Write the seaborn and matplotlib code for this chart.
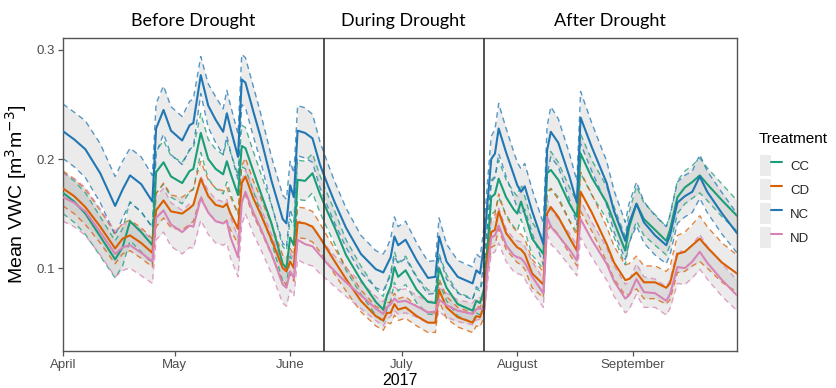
import numpy as np
import pandas as pd
import matplotlib
matplotlib.use("Agg")
import matplotlib.pyplot as plt
import matplotlib.dates as mdates
from matplotlib.patches import Patch
from matplotlib.lines import Line2D
from matplotlib.legend_handler import HandlerTuple
import seaborn as sns

year = "2017"
dates = [
    # before drought
    "04-01", "04-04", "04-07", "04-11", "04-15", "04-17", "04-19", "04-22", "04-25", "04-26",
    "04-28", "04-30", "05-03", "05-05", "05-06", "05-08", "05-10", "05-12", "05-14", "05-15",
    "05-16", "05-18", "05-19", "05-20", "05-22", "05-24", "05-27", "05-30", "05-31", "06-01",
    "06-02", "06-03", "06-05", "06-07", "06-09",
    # during drought
    "06-11", "06-13", "06-16", "06-20", "06-24", "06-26", "06-27", "06-28", "06-29", "06-30",
    "07-02", "07-05", "07-08", "07-10", "07-11", "07-13", "07-16", "07-20", "07-21", "07-22",
    # after drought
    "07-23", "07-24", "07-25", "07-26", "07-27", "07-29", "07-31", "08-01", "08-02", "08-03",
    "08-05", "08-08", "08-09", "08-10", "08-12", "08-15", "08-17", "08-18", "08-21", "08-25",
    "08-27", "08-30", "08-31", "09-02", "09-04", "09-07", "09-10", "09-11", "09-13", "09-15",
    "09-17", "09-19", "09-21", "09-25", "09-29",
]

treatments = ["CC", "CD", "NC", "ND"]

nc = [
    .2255, .218, .209, .187, .157, .172, .185, .177, .161, .228,
    .245, .226, .217, .231, .233, .277, .249, .236, .225, .242,
    .228, .202, .273, .270, .245, .221, .180, .145, .141, .176,
    .165, .226, .224, .219, .195,
    .177, .160, .137, .113, .099, .096, .103, .110, .129, .121,
    .126, .107, .091, .092, .129, .106, .092, .086, .098, .095,
    .120, .160, .200, .205, .228, .206, .186, .176, .170, .175,
    .152, .122, .208, .225, .215, .184, .160, .238, .211, .178,
    .152, .125, .141, .159, .142, .130, .121, .130, .160, .166,
    .170, .184, .170, .150, .132,
]
cc = [
    .169, .161, .150, .129, .108, .119, .143, .133, .121, .188,
    .197, .184, .178, .189, .191, .224, .200, .191, .186, .198,
    .187, .167, .212, .210, .190, .170, .141, .104, .100, .128,
    .121, .181, .180, .187, .168,
    .152, .137, .112, .089, .069, .062, .075, .083, .101, .092,
    .098, .080, .069, .068, .100, .082, .067, .061, .070, .068,
    .080, .120, .165, .168, .182, .165, .154, .150, .161, .150,
    .127, .113, .187, .190, .181, .159, .147, .205, .183, .160,
    .142, .116, .137, .159, .145, .135, .125, .135, .165, .174,
    .179, .185, .177, .162, .148,
]
cd = [
    .173, .166, .156, .138, .118, .127, .130, .123, .114, .153,
    .162, .152, .150, .155, .158, .182, .166, .158, .156, .159,
    .150, .136, .178, .184, .165, .150, .126, .100, .097, .106,
    .100, .142, .141, .138, .128,
    .117, .106, .090, .070, .056, .052, .059, .059, .067, .062,
    .064, .056, .050, .050, .080, .064, .055, .050, .056, .055,
    .065, .110, .133, .135, .152, .132, .123, .119, .117, .113,
    .095, .085, .150, .156, .147, .128, .116, .170, .151, .122,
    .105, .089, .090, .096, .087, .087, .082, .086, .113, .115,
    .121, .127, .119, .105, .095,
]
nd = [
    .165, .160, .152, .133, .113, .119, .121, .114, .106, .146,
    .153, .140, .133, .139, .138, .164, .151, .143, .141, .143,
    .128, .110, .160, .170, .152, .137, .113, .085, .082, .097,
    .091, .126, .122, .120, .112,
    .104, .097, .087, .075, .063, .058, .064, .067, .072, .069,
    .070, .065, .0595, .060, .071, .066, .061, .058, .0625, .063,
    .062, .100, .128, .130, .139, .121, .112, .110, .109, .105,
    .092, .077, .147, .138, .130, .117, .107, .145, .126, .104,
    .088, .072, .075, .090, .078, .077, .070, .076, .101, .100,
    .106, .115, .105, .089, .075,
]

nc_se = [
    .025, .025, .026, .027, .027, .026, .025, .025, .024, .023,
    .022, .022, .022, .022, .022, .017, .020, .021, .021, .021,
    .021, .021, .023, .023, .023, .022, .022, .022, .022, .022,
    .022, .023, .023, .022, .021,
    .020, .019, .018, .017, .017, .017, .016, .017, .018, .017,
    .017, .016, .015, .015, .017, .016, .015, .015, .015, .015,
    .016, .019, .021, .022, .023, .022, .021, .021, .021, .021,
    .020, .019, .022, .023, .022, .021, .020, .024, .022, .020,
    .019, .017, .018, .020, .019, .018, .017, .018, .019, .019,
    .019, .020, .019, .019, .018,
]
cc_se = [
    .019, .019, .019, .018, .017, .017, .018, .018, .017, .019,
    .020, .019, .019, .019, .019, .018, .018, .018, .018, .019,
    .019, .018, .019, .019, .018, .018, .017, .016, .016, .017,
    .017, .018, .018, .018, .017,
    .016, .015, .014, .013, .012, .012, .012, .013, .014, .013,
    .013, .012, .011, .011, .013, .012, .011, .011, .011, .011,
    .012, .014, .016, .016, .017, .016, .016, .016, .016, .016,
    .015, .014, .017, .017, .016, .015, .014, .018, .016, .015,
    .014, .013, .014, .016, .015, .014, .013, .014, .015, .015,
    .015, .016, .015, .015, .014,
]
cd_se = [
    .016, .016, .016, .015, .014, .014, .014, .014, .013, .015,
    .016, .015, .015, .015, .015, .016, .015, .015, .015, .015,
    .015, .014, .016, .017, .016, .015, .014, .012, .012, .012,
    .012, .014, .014, .014, .013,
    .012, .012, .011, .010, .009, .009, .009, .010, .010, .010,
    .010, .009, .009, .009, .010, .010, .009, .009, .009, .009,
    .010, .013, .014, .014, .016, .015, .014, .014, .014, .014,
    .013, .012, .016, .017, .016, .015, .014, .018, .017, .016,
    .015, .014, .014, .015, .015, .015, .015, .015, .017, .018,
    .019, .021, .019, .018, .017,
]
nd_se = [
    .022, .022, .022, .021, .021, .021, .021, .021, .020, .020,
    .020, .020, .020, .020, .020, .020, .020, .020, .020, .020,
    .019, .018, .020, .020, .020, .019, .018, .017, .017, .017,
    .017, .018, .018, .018, .017,
    .015, .014, .013, .012, .011, .011, .011, .011, .011, .011,
    .011, .010, .010, .010, .011, .011, .010, .010, .010, .010,
    .010, .013, .015, .015, .016, .015, .015, .015, .015, .015,
    .014, .013, .016, .016, .015, .015, .014, .017, .016, .015,
    .014, .013, .013, .014, .014, .013, .013, .013, .015, .015,
    .015, .016, .015, .015, .014,
]

period_labels = ["Before Drought", "During Drought", "After Drought"]
period_edges = ["04-01", "06-10", "07-23", "09-29"]
month_ticks = ["04-01", "05-01", "06-01", "07-01", "08-01", "09-01"]
month_labels = ["April", "May", "June", "July", "August", "September"]
yticks = [0.1, 0.2, 0.3]

palette = {"CC": "#1b9e77", "CD": "#d95f02", "NC": "#2077b4", "ND": "#d883b7"}

means = {"CC": cc, "CD": cd, "NC": nc, "ND": nd}
ses = {"CC": cc_se, "CD": cd_se, "NC": nc_se, "ND": nd_se}
for t in treatments:
    assert len(means[t]) == len(dates) == len(ses[t])

frames = []
for t in treatments:
    frames.append(pd.DataFrame({
        "date": pd.to_datetime([f"{year}-{d}" for d in dates]),
        "Treatment": t,
        "VWC": means[t],
        "SE": ses[t],
    }))
df = pd.concat(frames, ignore_index=True)
df["lower"] = df["VWC"] - df["SE"]
df["upper"] = df["VWC"] + df["SE"]

sns.set_theme(style="white")
plt.rcParams["font.family"] = ["Liberation Sans", "DejaVu Sans"]

fig = plt.figure(figsize=(8.36, 3.88), dpi=100)
ax = fig.add_axes([63 / 836, 1 - 351 / 388, (737 - 63) / 836, (351 - 38) / 388])

for t in treatments:
    sub = df[df["Treatment"] == t]
    ax.fill_between(sub["date"], sub["lower"], sub["upper"],
                    facecolor="#b3b3b3", alpha=0.25, linewidth=0, zorder=1)
for t in treatments:
    sub = df[df["Treatment"] == t]
    for col in ["lower", "upper"]:
        sns.lineplot(data=sub, x="date", y=col, color=palette[t], ax=ax,
                     linewidth=1.0, alpha=0.75, estimator=None, legend=False,
                     dashes=False, linestyle=(0, (4, 3)), zorder=2)

sns.lineplot(data=df, x="date", y="VWC", hue="Treatment", hue_order=treatments,
             palette=palette, linewidth=1.5, estimator=None, legend=False,
             ax=ax, zorder=3)

edges = pd.to_datetime([f"{year}-{d}" for d in period_edges])
for e in edges[1:-1]:
    ax.axvline(e, color="#333333", linewidth=1.2, zorder=4)

for i, lab in enumerate(period_labels):
    mid = edges[i] + (edges[i + 1] - edges[i]) / 2
    ax.text(mid, 1.0 + 17 / 313, lab, transform=ax.get_xaxis_transform(),
            ha="center", va="center", fontsize=13, family=["Lato", "DejaVu Sans"],
            color="black")

ax.set_xlim(edges[0], edges[-1])
ax.set_ylim(0.024, 0.311)
ax.set_xticks(pd.to_datetime([f"{year}-{d}" for d in month_ticks]))
ax.set_xticklabels(month_labels)
ax.set_yticks(yticks)
ax.set_yticklabels([f"{v:.1f}" for v in yticks])

for s in ax.spines.values():
    s.set_color("#555555")
    s.set_linewidth(1.0)
ax.tick_params(axis="both", which="major", length=3.5, width=0.9, color="#555555",
               labelcolor="#4d4d4d", labelsize=9.5, pad=2, bottom=True, left=True)

ax.set_xlabel(year, fontsize=11.5, color="black", labelpad=2)
ax.set_ylabel("Mean VWC [m$^3$m$^{-3}$]", fontsize=14, color="black", labelpad=6)

handles = [(Patch(facecolor="#ebebeb", edgecolor="none"),
            Line2D([], [], color=palette[t], linewidth=1.5)) for t in treatments]
leg = fig.legend(handles, treatments, handler_map={tuple: HandlerTuple(ndivide=None)},
                 loc="upper left", bbox_to_anchor=(760 / 836, 1 - 155 / 388),
                 frameon=False, fontsize=9.5, handlelength=1.64, handleheight=2.07,
                 labelspacing=0.23, handletextpad=0.65, borderpad=0, borderaxespad=0)
fig.text(759 / 836, 1 - 139 / 388, "Treatment", fontsize=11, ha="left", va="center",
         color="black")

fig.savefig("out.png", dpi=100)
